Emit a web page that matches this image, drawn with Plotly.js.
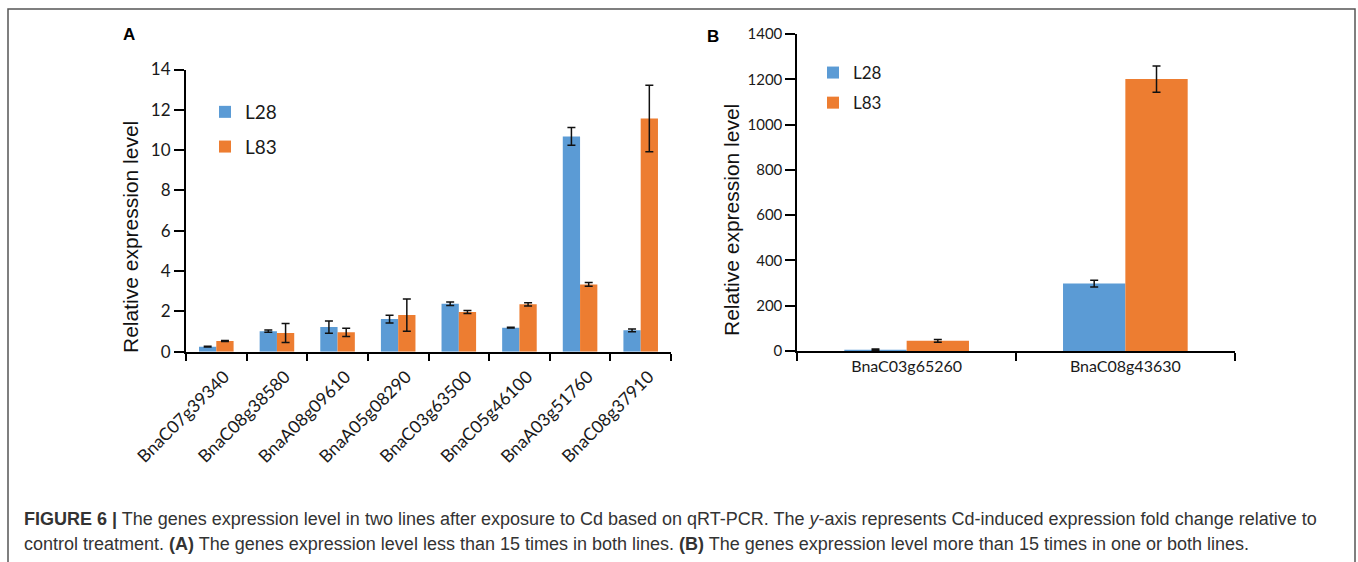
<!DOCTYPE html>
<html>
<head>
<meta charset="utf-8">
<script src="https://cdn.plot.ly/plotly-3.0.1.min.js"></script>
<style>html,body{margin:0;padding:0;background:#fff;} #chart{width:1358px;height:562px;}</style>
</head>
<body>
<div id="chart"></div>
<script>
// ---- Data ----
const genesA = ['BnaC07g39340','BnaC08g38580','BnaA08g09610','BnaA05g08290','BnaC03g63500','BnaC05g46100','BnaA03g51760','BnaC08g37910'];
const L28_A = [0.25, 1.02, 1.22, 1.62, 2.38, 1.19, 10.68, 1.06];
const L28_A_err = [0.02, 0.06, 0.30, 0.19, 0.09, 0.02, 0.44, 0.07];
const L83_A = [0.53, 0.93, 0.96, 1.82, 1.97, 2.35, 3.34, 11.57];
const L83_A_err = [0.02, 0.47, 0.20, 0.80, 0.07, 0.08, 0.09, 1.65];

const genesB = ['BnaC03g65260','BnaC08g43630'];
const L28_B = [6, 298];
const L28_B_err = [3, 15];
const L83_B = [45, 1201];
const L83_B_err = [6, 58];

const seriesNames = ['L28', 'L83'];
const yTicksA = [0, 2, 4, 6, 8, 10, 12, 14];
const yTicksB = [0, 200, 400, 600, 800, 1000, 1200, 1400];
const yTitle = 'Relative expression level';
const captionLine1 = '<b>FIGURE 6 |</b> The genes expression level in two lines after exposure to Cd based on qRT-PCR. The <i>y</i>-axis represents Cd-induced expression fold change relative to';
const captionLine2 = 'control treatment. <b>(A)</b> The genes expression level less than 15 times in both lines. <b>(B)</b> The genes expression level more than 15 times in one or both lines.';

// ---- Styles ----
const BLUE = '#5B9BD5', ORANGE = '#ED7D31';
const W = 1358, H = 562;
const px = v => v / W;
const py = v => 1 - v / H;
const LATO = 'Lato, "Open Sans", sans-serif';
const ARIAL = '"Liberation Sans", Arial, sans-serif';

function errBar(arr, w) {
  return {type: 'data', array: arr, visible: true, color: '#111', thickness: 1.5, width: w};
}

const traces = [
  {type: 'bar', name: seriesNames[0], x: genesA, y: L28_A, error_y: errBar(L28_A_err, 4),
   marker: {color: BLUE}, xaxis: 'x', yaxis: 'y', legend: 'legend', legendgroup: 'a1'},
  {type: 'bar', name: seriesNames[1], x: genesA, y: L83_A, error_y: errBar(L83_A_err, 4),
   marker: {color: ORANGE}, xaxis: 'x', yaxis: 'y', legend: 'legend', legendgroup: 'a2'},
  {type: 'bar', name: seriesNames[0], x: genesB, y: L28_B, error_y: errBar(L28_B_err, 4),
   marker: {color: BLUE}, xaxis: 'x2', yaxis: 'y2', legend: 'legend2', legendgroup: 'b1'},
  {type: 'bar', name: seriesNames[1], x: genesB, y: L83_B, error_y: errBar(L83_B_err, 4),
   marker: {color: ORANGE}, xaxis: 'x2', yaxis: 'y2', legend: 'legend2', legendgroup: 'b2'}
];

const axisCommon = {showgrid: false, zeroline: false, showline: true, linecolor: '#000', linewidth: 2,
  ticks: 'outside', tickcolor: '#000', tickwidth: 2, fixedrange: true};

const layout = {
  width: W, height: H,
  margin: {l: 0, r: 0, t: 0, b: 0},
  paper_bgcolor: '#fff', plot_bgcolor: 'rgba(0,0,0,0)',
  barmode: 'group', bargap: 0.43, bargroupgap: 0,
  showlegend: true,
  xaxis: Object.assign({}, axisCommon, {domain: [px(186), px(671)], anchor: 'y',
    tickson: 'boundaries', ticklen: 7, tickangle: -45, ticklabelshift: 8, ticklabelstandoff: 6,
    tickfont: {family: LATO, size: 17.5, color: '#1a1a1a'}}),
  yaxis: Object.assign({}, axisCommon, {domain: [py(351.7), py(69.5)], anchor: 'x',
    range: [0, 14], tickvals: yTicksA, ticktext: yTicksA.map(String), ticklen: 10,
    tickfont: {family: LATO, size: 17, color: '#1a1a1a'}}),
  xaxis2: Object.assign({}, axisCommon, {domain: [px(797.3), px(1234.7)], anchor: 'y2',
    tickson: 'boundaries', ticklen: 8, tickangle: 0,
    tickfont: {family: LATO, size: 16, color: '#1a1a1a'}}),
  yaxis2: Object.assign({}, axisCommon, {domain: [py(351), py(34)], anchor: 'x2',
    range: [0, 1400], tickvals: yTicksB, ticktext: yTicksB.map(String), ticklen: 10,
    tickfont: {family: LATO, size: 15, color: '#1a1a1a'}}),
  legend: {x: px(205), y: py(93), xanchor: 'left', yanchor: 'top', traceorder: 'grouped',
    tracegroupgap: 7, bgcolor: 'rgba(0,0,0,0)',
    font: {family: LATO, size: 19, color: '#1a1a1a'}},
  legend2: {x: px(813), y: py(55), xanchor: 'left', yanchor: 'top', traceorder: 'grouped',
    tracegroupgap: 5, bgcolor: 'rgba(0,0,0,0)',
    font: {family: LATO, size: 17, color: '#1a1a1a'}},
  annotations: [
    {text: yTitle, xref: 'paper', yref: 'paper', x: px(130), y: py(237), textangle: -90,
     showarrow: false, xanchor: 'center', yanchor: 'middle',
     font: {family: ARIAL, size: 21, color: '#111'}},
    {text: yTitle, xref: 'paper', yref: 'paper', x: px(731), y: py(220), textangle: -90,
     showarrow: false, xanchor: 'center', yanchor: 'middle',
     font: {family: ARIAL, size: 21, color: '#111'}},
    {text: '<b>A</b>', xref: 'paper', yref: 'paper', x: px(129), y: py(35), showarrow: false,
     xanchor: 'center', yanchor: 'middle',
     font: {family: ARIAL, size: 17, color: '#000'}},
    {text: '<b>B</b>', xref: 'paper', yref: 'paper', x: px(713), y: py(37), showarrow: false,
     xanchor: 'center', yanchor: 'middle',
     font: {family: ARIAL, size: 17, color: '#000'}},
    {text: captionLine1, xref: 'paper', yref: 'paper', x: px(22), y: py(519), showarrow: false,
     xanchor: 'left', yanchor: 'middle', align: 'left',
     font: {family: ARIAL, size: 18, color: '#333'}},
    {text: captionLine2, xref: 'paper', yref: 'paper', x: px(22), y: py(544), showarrow: false,
     xanchor: 'left', yanchor: 'middle', align: 'left',
     font: {family: ARIAL, size: 18, color: '#333'}}
  ],
  shapes: [
    {type: 'rect', xref: 'paper', yref: 'paper', x0: px(8), x1: px(1355), y0: -0.2, y1: py(9),
     line: {color: '#555', width: 1.5}, fillcolor: 'rgba(0,0,0,0)', layer: 'below'}
  ]
};

Plotly.newPlot('chart', traces, layout, {displayModeBar: false, staticPlot: true});
</script>
</body>
</html>
